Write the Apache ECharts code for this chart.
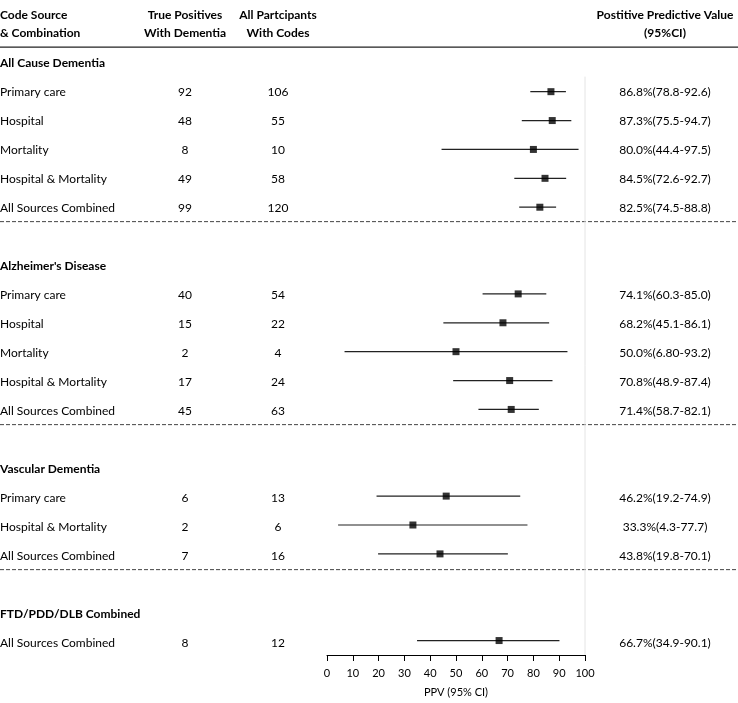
<!DOCTYPE html>
<html>
<head>
<meta charset="utf-8">
<script src="https://cdn.jsdelivr.net/npm/echarts@6/dist/echarts.min.js"></script>
<style>
html,body{margin:0;padding:0;background:#fff;}
#c{width:738px;height:703px;}
</style>
</head>
<body>
<div id="c"></div>
<script>
// ---------- data ----------
const groupNames = ["All Cause Dementia", "Alzheimer's Disease", "Vascular Dementia", "FTD/PDD/DLB Combined"];
const rowGroup  = [0, 0, 0, 0, 0, 1, 1, 1, 1, 1, 2, 2, 2, 3];
const rowLabels = ["Primary care", "Hospital", "Mortality", "Hospital & Mortality", "All Sources Combined",
                   "Primary care", "Hospital", "Mortality", "Hospital & Mortality", "All Sources Combined",
                   "Primary care", "Hospital & Mortality", "All Sources Combined",
                   "All Sources Combined"];
const truePositives = [92, 48, 8, 49, 99, 40, 15, 2, 17, 45, 6, 2, 7, 8];
const allParticipants = [106, 55, 10, 58, 120, 54, 22, 4, 24, 63, 13, 6, 16, 12];
const ppv    = [86.8, 87.3, 80.0, 84.5, 82.5, 74.1, 68.2, 50.0, 70.8, 71.4, 46.2, 33.3, 43.8, 66.7];
const ciLow  = [78.8, 75.5, 44.4, 72.6, 74.5, 60.3, 45.1, 6.80, 48.9, 58.7, 19.2, 4.3, 19.8, 34.9];
const ciHigh = [92.6, 94.7, 97.5, 92.7, 88.8, 85.0, 86.1, 93.2, 87.4, 82.1, 74.9, 77.7, 70.1, 90.1];
const ciText = ["86.8%(78.8-92.6)", "87.3%(75.5-94.7)", "80.0%(44.4-97.5)", "84.5%(72.6-92.7)", "82.5%(74.5-88.8)",
                "74.1%(60.3-85.0)", "68.2%(45.1-86.1)", "50.0%(6.80-93.2)", "70.8%(48.9-87.4)", "71.4%(58.7-82.1)",
                "46.2%(19.2-74.9)", "33.3%(4.3-77.7)", "43.8%(19.8-70.1)",
                "66.7%(34.9-90.1)"];
const xTickValues = [0, 10, 20, 30, 40, 50, 60, 70, 80, 90, 100];
const headerTop = ["Code Source", "True Positives", "All Partcipants", "Postitive Predictive Value"];
const headerBottom = ["& Combination", "With Dementia", "With Codes", "(95%CI)"];
const axisTitle = "PPV (95% CI)";

// ---------- layout ----------
const FONT = "Lato";
const colX = [0, 185, 278, 665];       // pixel columns on the full-width text grid
const colAlign = ['left', 'center', 'center', 'center'];

// compute row slots
const groupSlots = [], rowSlots = [], sepSlots = [];
let slot = 0;
groupNames.forEach((g, gi) => {
  groupSlots.push(slot); slot++;
  rowGroup.forEach((rg, ri) => { if (rg === gi) { rowSlots[ri] = slot; slot++; } });
  const last = slot - 1;
  if (gi < groupNames.length - 1) sepSlots.push(last + 0.47);
  slot = last + 2;
});
const lastSlot = slot - 2;
const yMin = -2, yMax = lastSlot + 0.5;

// text items
const texts = [];
headerTop.forEach((t, i) => texts.push({x: colX[i], y: -1.66, t, align: colAlign[i], bold: true}));
headerBottom.forEach((t, i) => texts.push({x: colX[i], y: -1.03, t, align: colAlign[i], bold: true}));
groupNames.forEach((g, i) => texts.push({x: colX[0], y: groupSlots[i], t: g, align: 'left', bold: true}));
rowLabels.forEach((l, i) => {
  texts.push({x: colX[0], y: rowSlots[i], t: l, align: 'left', bold: false});
  texts.push({x: colX[1], y: rowSlots[i], t: String(truePositives[i]), align: 'center', bold: false});
  texts.push({x: colX[2], y: rowSlots[i], t: String(allParticipants[i]), align: 'center', bold: false});
  texts.push({x: colX[3], y: rowSlots[i], t: ciText[i], align: 'center', bold: false});
});

const chart = echarts.init(document.getElementById('c'), null, {renderer: 'canvas'});
const gridTop = 5, gridBottom = 45.5;

chart.setOption({
  animation: false,
  backgroundColor: '#fff',
  grid: [
    {left: 327, width: 258, top: gridTop, bottom: gridBottom, containLabel: false},
    {left: 0, right: 0, top: gridTop, bottom: gridBottom, containLabel: false}
  ],
  xAxis: [
    {
      gridIndex: 0, type: 'value', min: 0, max: 100, interval: 10, position: 'bottom',
      axisLine: {show: true, onZero: false, lineStyle: {color: '#000', width: 1}},
      axisTick: {show: true, length: 6, lineStyle: {color: '#000'}},
      axisLabel: {show: true, margin: 13, fontFamily: FONT, fontSize: 11, color: '#000',
        customValues: xTickValues},
      splitLine: {show: false},
      name: axisTitle, nameLocation: 'middle', nameGap: 32,
      nameTextStyle: {fontFamily: FONT, fontSize: 11, color: '#000'}
    },
    {gridIndex: 1, type: 'value', min: 0, max: 738, show: false}
  ],
  yAxis: [
    {gridIndex: 0, type: 'value', min: yMin, max: yMax, inverse: true, show: false},
    {gridIndex: 1, type: 'value', min: yMin, max: yMax, inverse: true, show: false}
  ],
  series: [
    // vertical reference line at 100
    {
      type: 'line', xAxisIndex: 0, yAxisIndex: 0, symbol: 'none', silent: true,
      data: [[100, 0.48], [100, yMax]],
      lineStyle: {color: '#e4e4e4', width: 1}
    },
    // solid header rule
    {
      type: 'line', xAxisIndex: 1, yAxisIndex: 1, symbol: 'none', silent: true,
      data: [[0, -0.55], [738, -0.55]],
      lineStyle: {color: '#222', width: 1.2}
    },
    // dashed separators
    {
      type: 'custom', xAxisIndex: 1, yAxisIndex: 1, silent: true,
      data: sepSlots.map(s => [0, s]),
      renderItem: function (params, api) {
        const s = api.value(1);
        const p1 = api.coord([0, s]), p2 = api.coord([738, s]);
        return {type: 'line', shape: {x1: p1[0], y1: p1[1], x2: p2[0], y2: p2[1]},
          style: {stroke: '#444', lineWidth: 1, lineDash: [4, 2]}};
      }
    },
    // CI lines
    {
      type: 'custom', xAxisIndex: 0, yAxisIndex: 0, silent: true, clip: false,
      data: ppv.map((v, i) => [ciLow[i], ciHigh[i], rowSlots[i]]),
      renderItem: function (params, api) {
        const p1 = api.coord([api.value(0), api.value(2)]);
        const p2 = api.coord([api.value(1), api.value(2)]);
        return {type: 'line', shape: {x1: p1[0], y1: p1[1], x2: p2[0], y2: p2[1]},
          style: {stroke: '#222', lineWidth: 1.2}};
      }
    },
    // point estimates
    {
      type: 'scatter', xAxisIndex: 0, yAxisIndex: 0, silent: true,
      symbol: 'rect', symbolSize: 7,
      itemStyle: {color: '#000'},
      data: ppv.map((v, i) => [v, rowSlots[i]])
    },
    // texts
    {
      type: 'custom', xAxisIndex: 1, yAxisIndex: 1, silent: true, clip: false,
      data: texts.map(d => [d.x, d.y]),
      renderItem: function (params, api) {
        const d = texts[params.dataIndex];
        const p = api.coord([api.value(0), api.value(1)]);
        return {type: 'text', x: p[0], y: p[1],
          style: {text: d.t, x: 0, y: 0, textAlign: d.align, textVerticalAlign: 'middle',
            fontFamily: FONT, fontSize: 12, fontWeight: d.bold ? 'bold' : 'normal', fill: '#000'}};
      }
    }
  ]
});
</script>
</body>
</html>
